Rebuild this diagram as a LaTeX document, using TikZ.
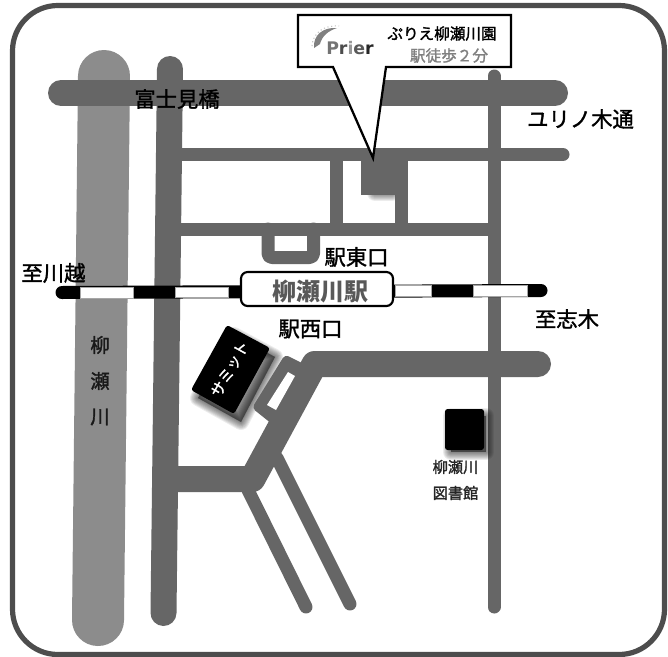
\documentclass[tikz,border=0pt]{standalone}
\usepackage{fontspec}
\newfontfamily\jp[FakeBold=1.5]{Noto Sans CJK JP}
\newfontfamily\jpb{Noto Sans CJK JP}
\newfontfamily\logofont{DejaVu Sans}
\setmainfont{Noto Sans CJK JP}
\usetikzlibrary{calc}
\definecolor{roadc}{HTML}{666666}
\definecolor{riverc}{HTML}{8C8C8C}
\definecolor{framec}{HTML}{4D4D4D}
\newcommand{\softshadow}[1]{%
  \foreach \w in {16,14,12,10,8,6,4,2}{%
    \draw[black,opacity=.075,fill=black,line width=\w*0.75pt,line join=round] #1;}}
\tikzset{
  wide/.style={draw=roadc,line width=19.5pt,line cap=round,line join=round},
  thin/.style={draw=roadc,line width=9.75pt,line cap=round,line join=round},
  label/.style={font=\jp\fontsize{16}{16}\selectfont,inner sep=0pt,text=black},
  small/.style={font=\jp\fontsize{11.4}{12}\selectfont,inner sep=0pt,text=black!85},
  river/.style={font=\jp\fontsize{14.5}{15}\selectfont,inner sep=0pt,text=black!90},
  wbar/.style={draw=black!35,line width=.4pt,fill=white}
}
\begin{document}
\begin{tikzpicture}[x=0.75pt,y=-0.75pt]
\useasboundingbox (0,0) rectangle (668,657);
\fill[white] (0,0) rectangle (668,657);
% outer frame
\draw[framec,line width=3.9pt,rounded corners=34pt] (12.5,5.5) rectangle (664.5,654.5);
% river
\draw[riverc,line width=39pt,line cap=round] (104,76) -- (98,620);
% roads
\draw[wide] (61,93) -- (555,93);
\draw[wide] (170,69) -- (163.5,613);
\draw[thin] (494,76) -- (494,607);
\draw[thin] (170,154.5) -- (563,154.5);
\draw[thin] (170,229) -- (494,229);
\draw[thin,line cap=butt] (336,154.5) -- (336,229);
\draw[thin,line cap=butt] (401,154.5) -- (401,229);
\fill[roadc] (361,158) rectangle (395,195);
% shadow beneath the building
\begin{scope}
\clip (361,195) rectangle (395,212);
\softshadow{(375,170) rectangle (392,193)}
\end{scope}
% station loop
\draw[thin,rounded corners=3pt] (268,229) -- (268,257.5) -- (313.5,257.5) -- (313.5,229);
% shadows of summit and library fall on the roads
\softshadow{(234,335) -- (275,357) -- (241,422) -- (198,398) -- cycle}
\softshadow{(451,416) rectangle (486,452)}
% diagonal side loop
\fill[roadc,rounded corners=3pt] (285,354.5) -- (306,365) -- (272,424) -- (252,408) -- cycle;
% lower roads
\draw[thin] (248,490) -- (306,607);
\draw[thin] (277,458) -- (350,604);
\draw[wide] (538,364) -- (314.6,364) -- (252.4,479) -- (170,479);
\fill[white] (288,372) -- (295,376) -- (276,410) -- (267,405) -- cycle;
% railway
\draw[black,line width=9.75pt,line cap=round] (62,292.5) -- (541,290.5);
\fill[wbar] (80,287) rectangle (133,298);
\fill[wbar] (175,287) rectangle (228,297);
\fill[wbar] (395,285.5) rectangle (431,296.5);
\fill[wbar] (473,285) rectangle (527,296);
% station
\node[draw=black,fill=white,line width=1.6pt,rounded corners=5pt,minimum width=114pt,minimum height=25.5pt,inner sep=0pt] (stationbox) at (317,289) {};
\node[inner sep=0pt,font=\jpb\bfseries\fontsize{18}{18}\selectfont,text=black!65] (station) at (320,291) {柳瀬川駅};
% summit
\fill[black,rounded corners=2pt] (227,325) -- (270,348) -- (234,414) -- (191,390) -- cycle;
\node[font=\jp\fontsize{11.5}{12}\selectfont,text=white,rotate=61,inner sep=0pt] (summit) at (230,369) {サミット};
% library
\fill[black,rounded corners=2pt] (445,409) rectangle (484,450);
\node[small] (lib1) at (455.5,467) {柳瀬川};
\node[small] (lib2) at (455.5,493) {図書館};
% labels
\node[label] (fuji) at (177,99) {富士見橋};
\node[label] (yuri) at (580.5,119) {ユリノ木通};
\node[label] (kawagoe) at (53.5,273) {至川越};
\node[label] (east) at (356.5,257) {駅東口};
\node[label] (west) at (310.5,329) {駅西口};
\node[label] (shiki) at (567,319) {至志木};
\node[river] (r1) at (100,345) {柳};
\node[river] (r2) at (100,381) {瀬};
\node[river] (r3) at (100,417) {川};
% callout
\draw[black,fill=white,line width=1.7pt,line join=miter]
  (298,15) -- (511,15) -- (511,67) -- (386,67) -- (373,158) -- (333,67) -- (298,67) -- cycle;
% logo
\fill[black!50] (314,48) .. controls (313,35) and (323,27) .. (337,28)
  .. controls (328,31) and (322,36) .. (320,44) -- cycle;
\draw[black!25,line width=.8pt,dotted] (312,46) .. controls (313,33) and (323,25) .. (339,26);
\node[inner sep=0pt,font=\logofont\bfseries\fontsize{13}{14}\selectfont] (logo) at (350,48)
  {\textcolor{black!55}{P}\textcolor{black!70}{r}\textcolor{black!40}{i}\textcolor{black!65}{e}\textcolor{black!85}{r}};
\node[inner sep=0pt,font=\jp\fontsize{11.7}{12}\selectfont,text=black] (t1) at (442,33.5) {ぷりえ柳瀬川園};
\node[inner sep=0pt,font=\jp\fontsize{11.7}{12}\selectfont,text=black!50] (t2) at (449,55.5) {駅徒歩２分};
\end{tikzpicture}
\end{document}
